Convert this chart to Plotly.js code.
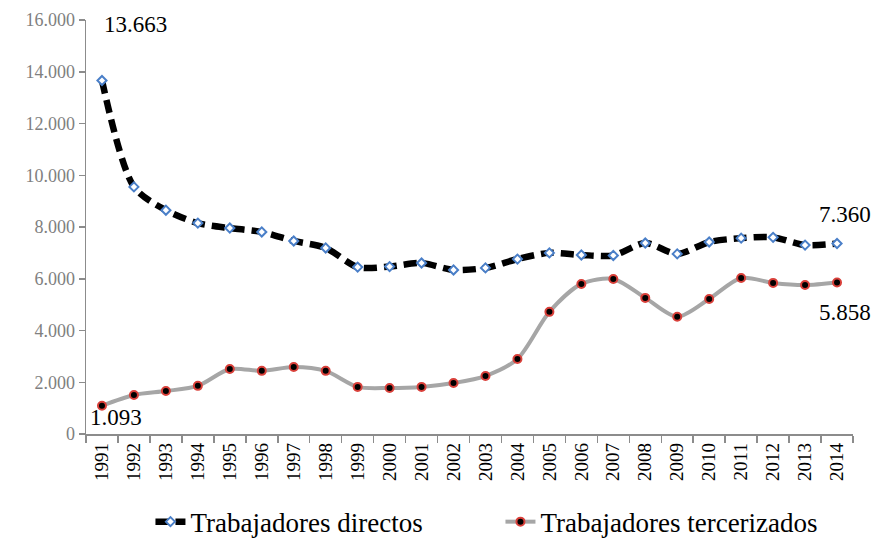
<!DOCTYPE html>
<html>
<head>
<meta charset="utf-8">
<script src="https://cdn.plot.ly/plotly-3.0.1.min.js"></script>
<style>html,body{margin:0;padding:0;background:#fff;}#chart{width:878px;height:545px;}</style>
</head>
<body>
<div id="chart"></div>
<script>
const years = ["1991","1992","1993","1994","1995","1996","1997","1998","1999","2000","2001","2002","2003","2004","2005","2006","2007","2008","2009","2010","2011","2012","2013","2014"];
const directos = [13663,9550,8650,8150,7960,7810,7460,7190,6450,6470,6610,6340,6420,6760,7000,6920,6900,7380,6960,7420,7570,7600,7300,7360];
const tercerizados = [1093,1510,1660,1860,2510,2440,2590,2440,1820,1780,1820,1970,2240,2900,4720,5800,5990,5260,4530,5220,6030,5840,5760,5858];
const seriesNames = ["Trabajadores directos","Trabajadores tercerizados"];
const labels = [
  {i:0, y:13663, text:"13.663", pos:"above"},
  {i:23, y:7360, text:"7.360", pos:"above"},
  {i:23, y:5858, text:"5.858", pos:"below"},
  {i:0, y:1093, text:"1.093", pos:"below"}
];

const FONT = "'Liberation Serif', 'Times New Roman', serif";

const traces = [
  {
    x: years, y: directos, name: seriesNames[0], type: "scatter", mode: "lines+markers",
    line: {color: "#000000", width: 6.5, dash: "13px,7px", shape: "spline", smoothing: 0.8},
    marker: {symbol: "diamond", size: 7, color: "#ffffff", line: {color: "#4a7fc8", width: 2}}
  },
  {
    x: years, y: tercerizados, name: seriesNames[1], type: "scatter", mode: "lines+markers",
    line: {color: "#a6a6a6", width: 4, shape: "spline", smoothing: 0.8},
    marker: {symbol: "circle", size: 8, color: "#000000", line: {color: "#d9403a", width: 2}}
  }
];

const shifts = [[34, 41], [8, 15], [8, -16], [14, 3]];
const annotations = labels.map((l, k) => ({
  x: l.i, y: l.y, xref: "x", yref: "y", text: l.text, showarrow: false,
  xanchor: "center", yanchor: l.pos === "above" ? "bottom" : "top",
  xshift: shifts[k][0], yshift: shifts[k][1],
  font: {family: FONT, size: 23, color: "#000"}
}));

const layout = {
  width: 878, height: 545,
  margin: {l: 86, r: 25, t: 20, b: 111},
  paper_bgcolor: "#fff", plot_bgcolor: "#fff",
  separators: ",.",
  showlegend: true,
  legend: {orientation: "h", x: 0.57, xanchor: "center", xref: "container",
    y: 0.042, yanchor: "middle", yref: "container",
    entrywidth: 305, entrywidthmode: "pixels",
    font: {family: FONT, size: 27, color: "#000"}},
  xaxis: {
    type: "category", categoryorder: "array", categoryarray: years,
    range: [-0.5, years.length - 0.5], autorange: false, automargin: false,
    showgrid: false, zeroline: false,
    showline: true, linecolor: "#8c8c8c", linewidth: 1.5,
    ticks: "outside", tickson: "boundaries", ticklen: 7, tickcolor: "#8c8c8c", tickwidth: 1.5,
    tickangle: -90,
    tickfont: {family: FONT, size: 19, color: "#000"}
  },
  yaxis: {
    range: [0, 16000], autorange: false, automargin: false, dtick: 2000, tickformat: ",.0f",
    showgrid: false, zeroline: false,
    showline: true, linecolor: "#8c8c8c", linewidth: 1.5,
    ticks: "outside", ticklen: 6, tickcolor: "#8c8c8c", tickwidth: 1.5,
    tickfont: {family: FONT, size: 18, color: "#808080"}
  },
  annotations: annotations
};

Plotly.newPlot("chart", traces, layout, {displayModeBar: false, staticPlot: true});
</script>
</body>
</html>
